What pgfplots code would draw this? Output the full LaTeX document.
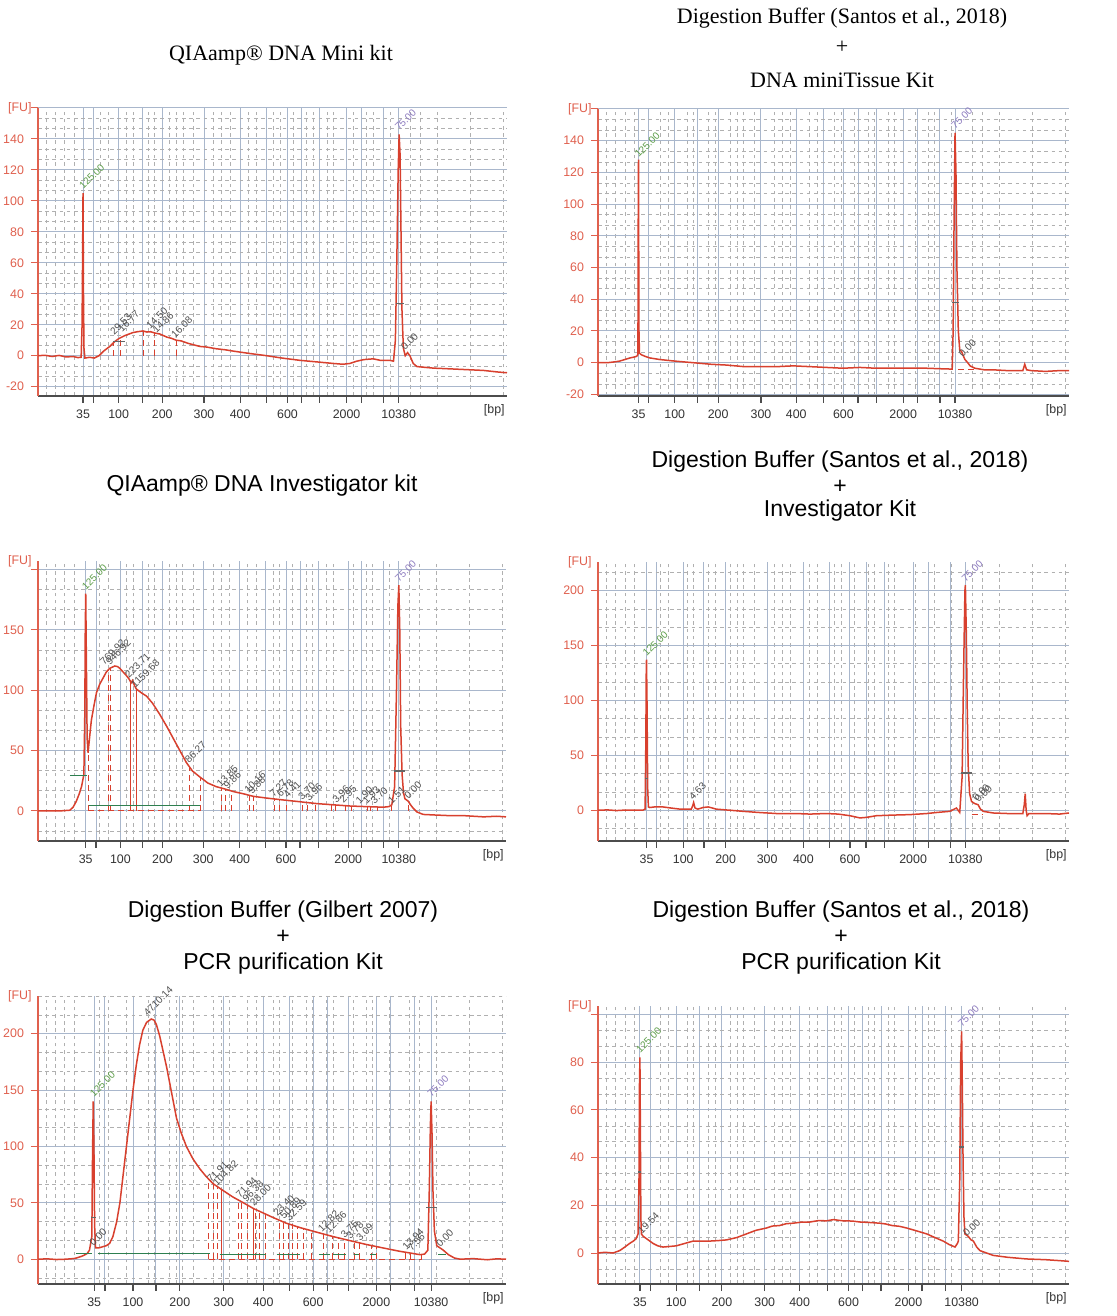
\documentclass[border=0pt]{standalone}
\usepackage{pgfplots}
\pgfplotsset{compat=1.18}
\usepackage{fontspec}
\setmainfont{Liberation Serif}
\newfontfamily\sansf{Liberation Sans}
\newfontfamily\tickf{Liberation Sans}
\definecolor{curve}{HTML}{D8402E}
\definecolor{axred}{HTML}{E0604E}
\definecolor{gridblue}{HTML}{A9B7CC}
\definecolor{gridgray}{HTML}{B0B0B0}
\definecolor{lblgreen}{HTML}{5E9E4A}
\definecolor{lblpurple}{HTML}{8E7CC0}
\definecolor{lbldark}{HTML}{505050}
\definecolor{basegreen}{HTML}{2E8050}
\newcommand\annf{\tickf\fontsize{5}{5.5}\selectfont}
\newcommand{\ann}[4]{\node[rotate=45, anchor=south west, inner sep=0.4pt, text=#1, font=\annf] at (axis cs:#2,#3) {#4};}
\pgfplotsset{
 bio/.style={
  scale only axis, anchor=south west,
  xmin=0, xmax=100,
  axis lines*=left,
  x axis line style={draw=black!70, line width=1pt},
  y axis line style={draw=axred, line width=0.6pt},
  tick align=outside,
  major tick length=3.5pt,
  minor tick length=0pt,
  xtick style={draw=black!70, line width=0.6pt},
  ytick style={draw=axred, line width=0.5pt},
  grid=both,
  major grid style={draw=gridblue, line width=0.5pt},
  minor grid style={draw=gridgray, line width=0.3pt, dash pattern=on 1.8pt off 1.8pt},
  tick label style={font=\tickf\fontsize{6.2}{7}\selectfont},
  yticklabel style={text=axred},
  xticklabel style={text=black!80},
  /pgf/number format/assume math mode=true,
  xticklabels={35,,100,,200,300,400,,600,,,2000,,,10380},
  minor xtick={1.8,3.6,5.7,7.8,13.2,15.0,18.9,20.3,23.5,24.9,28.1,29.5,30.9,33.1,37.4,39.1,40.9,44.8,46.6,50.2,51.6,54.4,57.3,58.7,61.6,63.0,67.3,70.1,71.5,75.1,79.4,81.5,85.1,92.2,99.3},
  clip mode=individual,
  after end axis/.code={
    \node[anchor=east, text=axred, font=\tickf\fontsize{6.2}{7}\selectfont, inner sep=1pt] at ([xshift=-2pt]rel axis cs:0,1) {[FU]};
    \node[anchor=north east, text=black!80, font=\tickf\fontsize{6.2}{7}\selectfont, inner sep=1pt] at ([yshift=-3pt]rel axis cs:1,0) {[bp]};
  },
 },
 cv/.style={draw=curve, line width=0.75pt, mark=none},
 cb/.style={ycomb, draw=curve, densely dashed, line width=0.35pt, mark=none},
 gb/.style={draw=basegreen, line width=0.6pt, mark=none},
 gd/.style={draw=black!60, line width=0.7pt, mark=none},
}
\begin{document}
\begin{tikzpicture}[x=1pt,y=1pt]
\useasboundingbox (0,0) rectangle (558,658);
\fill[white] (0,0) rectangle (558,658);

% ---------- titles ----------
\node[font=\fontsize{11}{13}\selectfont] at (140.5,630.5) {QIAamp® DNA Mini kit};
\node[font=\fontsize{11}{13}\selectfont] at (421,649) {Digestion Buffer (Santos et al., 2018)};
\node[font=\fontsize{11}{13}\selectfont] at (421,634.5) {+};
\node[font=\fontsize{11}{13}\selectfont] at (421,618) {DNA miniTissue Kit};
\node[font=\sansf\fontsize{11.5}{13}\selectfont] at (131,415) {QIAamp® DNA Investigator kit};
\node[font=\sansf\fontsize{11.5}{13}\selectfont] at (420,427) {Digestion Buffer (Santos et al., 2018)};
\node[font=\sansf\fontsize{11.5}{13}\selectfont] at (420,414.5) {+};
\node[font=\sansf\fontsize{11.5}{13}\selectfont] at (420,402.5) {Investigator Kit};
\node[font=\sansf\fontsize{11.5}{13}\selectfont] at (141.5,202) {Digestion Buffer (Gilbert 2007)};
\node[font=\sansf\fontsize{11.5}{13}\selectfont] at (141.5,189.5) {+};
\node[font=\sansf\fontsize{11.5}{13}\selectfont] at (141.5,176) {PCR purification Kit};
\node[font=\sansf\fontsize{11.5}{13}\selectfont] at (420.5,202) {Digestion Buffer (Santos et al., 2018)};
\node[font=\sansf\fontsize{11.5}{13}\selectfont] at (420.5,189.5) {+};
\node[font=\sansf\fontsize{11.5}{13}\selectfont] at (420.5,176) {PCR purification Kit};

% ---------- Panel 1 ----------
\begin{axis}[bio, at={(19pt,460pt)}, width=234.5pt, height=144pt,
  ymin=-26, ymax=160,
  ytick={-20,0,20,40,60,80,100,120,140,160},
  yticklabels={-20,0,20,40,60,80,100,120,140,{}},
  minor ytick={-13.33,-6.67,6.67,13.33,26.67,33.33,46.67,53.33,66.67,73.33,86.67,93.33,106.67,113.33,126.67,133.33,146.67,153.33},
  xtick={9.6,11.9,17.2,22.2,26.5,35.4,43.1,48.8,53.2,56.1,60.0,65.8,68.9,73.7,76.9}]
\addplot[cv] coordinates {(0,0)(1.5,0.3)(3,-0.5)(4.5,0.2)(6,-0.8)(7.5,-0.5)(8.5,-1.2)(9.2,-1)(9.4,20)(9.5,60)(9.6,105)(9.7,40)(9.8,5)(10,-1.5)(11,-1)(12,-1.5)(13,0)(14,3)(15.3,6)(16.3,9)(17.2,11)(18.5,13)(20.3,15)(21.2,15.5)(22.4,16)(23.2,15.3)(24,15.5)(25,14.6)(26,14)(27.5,12)(28.5,11.2)(29.5,10)(30.5,9.6)(32,8)(34.5,6)(36,5.6)(38,4.5)(40,3.8)(41.6,3)(45,1.5)(48.8,0)(52,-1.5)(55.9,-3)(59.5,-4)(63,-5)(65,-5.5)(66.5,-5)(68,-3.5)(69.5,-2.5)(71.5,-2)(73,-3)(75,-3)(75.8,-3.5)(76.2,10)(76.5,60)(76.8,120)(77.0,143)(77.2,130)(77.4,80)(77.6,30)(77.9,5)(78.3,0)(78.8,2)(79.3,0)(80,-5)(80.8,-7)(82.5,-7.5)(84.3,-8)(88,-8.5)(91.5,-9)(95,-9.5)(98,-10.5)(100,-11)};
\addplot[cb] coordinates {(16.0,8)(17.5,11)(22.5,16)(24.8,15)(29.6,10)};
\addplot[gd] coordinates {(16.0,9)(18.5,9)};
\addplot[gd] coordinates {(76.3,33.6)(78.0,33.6)};
\ann{lblgreen}{9.7}{106}{125.00}
\ann{lblpurple}{77.0}{144}{75.00}
\ann{lbldark}{78.3}{2}{0.00}
\ann{lbldark}{16.3}{12}{29.53}
\ann{lbldark}{18.0}{14}{16.77}
\ann{lbldark}{24.0}{16}{14.50}
\ann{lbldark}{25.3}{13}{14.86}
\ann{lbldark}{29.3}{10}{16.08}
\end{axis}

% ---------- Panel 2 ----------
\begin{axis}[bio, at={(299pt,460pt)}, width=235.5pt, height=143.5pt,
  ymin=-21, ymax=160,
  ytick={-20,0,20,40,60,80,100,120,140,160},
  yticklabels={-20,0,20,40,60,80,100,120,140,{}},
  minor ytick={-13.33,-6.67,6.67,13.33,26.67,33.33,46.67,53.33,66.67,73.33,86.67,93.33,106.67,113.33,126.67,133.33,146.67,153.33},
  xtick={8.6,10.8,16.3,21.2,25.5,34.6,42.1,47.8,52.1,55.2,59.1,64.8,67.8,72.6,75.8}]
\addplot[cv] coordinates {(0,0)(2,0)(3.5,0.5)(4.6,1)(5.7,2)(6.8,3)(7.6,3.5)(8.2,4)(8.45,5)(8.5,30)(8.55,100)(8.6,128)(8.65,70)(8.7,20)(8.8,6)(9.2,5)(10,4)(11,3)(13.1,2)(16.3,1)(20.2,0)(24,-1)(27.3,-1.5)(31,-2.5)(34.3,-2.5)(38,-2.5)(41.4,-2)(45,-2.5)(48.5,-3)(52,-3.5)(55.6,-3)(59,-3.5)(62.7,-3.5)(66,-3.5)(69.8,-3.5)(72.5,-3.8)(74.7,-4)(75.2,-4)(75.4,20)(75.6,90)(75.8,145)(76.0,120)(76.2,60)(76.5,20)(76.8,8)(77.2,7)(77.6,4)(77.9,2)(78.5,0)(79,-2)(80,-3.5)(82,-4.5)(83.9,-4.5)(87,-5)(90.2,-5)(90.6,-1)(91,-4.5)(92,-5)(95,-5.5)(98,-5)(100,-5)};
\addplot[gd] coordinates {(75.2,38)(76.7,38)};
\addplot[draw=curve, densely dashed, line width=0.35pt] coordinates {(76.5,-4)(80,-4)};
\ann{lblgreen}{8.7}{128}{125.00}
\ann{lblpurple}{75.9}{146}{75.00}
\ann{lbldark}{77.5}{2}{0.00}
\end{axis}

% ---------- Panel 3 ----------
\begin{axis}[bio, at={(19pt,237.5pt)}, width=234pt, height=140pt,
  ymin=-25, ymax=207,
  ytick={0,50,100,150,200},
  yticklabels={0,50,100,150,{}},
  minor ytick={-16.67,16.67,33.33,66.67,83.33,116.67,133.33,166.67,183.33},
  xtick={10.2,12.4,17.6,22.3,26.6,35.3,43.1,48.6,53.0,56.0,60.0,66.3,69.2,73.9,77.1}]
\addplot[cb] coordinates {(10.8,50)(15.0,117)(15.4,118)(32.4,36)(34.6,28)(39.1,18)(40.0,17)(41.3,16)(45.2,13)(46.1,12)(50.5,10)(51.5,10)(53.0,9)(56.5,7.5)(57.5,7.3)(59.2,6)(62.6,5)(63.5,5)(65.7,4.5)(67,4)(70.3,3.5)(71,3.5)(72.5,3.2)(75.5,4)(79.2,8)};
\addplot[ycomb, draw=curve, line width=0.45pt, mark=none] coordinates {(19.7,108)(21.0,101)};
\addplot[draw=curve, densely dashed, line width=0.35pt] coordinates {(10.7,0)(34.6,0)};
\addplot[cv] coordinates {(0,0)(3,0)(5,0)(6.8,0.5)(7.5,3)(8.2,8)(8.8,14)(9.3,20)(9.8,30)(10.0,80)(10.1,150)(10.2,180)(10.35,120)(10.5,60)(10.7,48)(11.0,60)(11.4,75)(12.0,88)(12.5,98)(13.2,105)(13.9,110)(14.6,115)(15.3,118)(16.4,120)(17.0,119.5)(17.5,118)(18.2,115)(18.9,112)(19.5,109)(19.9,106)(20.2,108)(20.6,104)(21.0,101)(22.0,98)(23.2,95)(24.5,89)(26.0,80)(27.5,70)(28.9,60)(30.3,50)(31.7,40)(33.0,33)(34.6,28)(36.3,23)(38.1,20)(40,18)(41.7,16)(44,14)(46,12)(49,10.5)(52.4,9)(56,7.5)(59.5,6)(63,5)(66.6,4)(70,3.5)(73.8,3)(75.0,3.5)(75.6,5)(76.2,20)(76.6,100)(76.9,170)(77.1,187)(77.3,150)(77.5,70)(77.8,30)(78.1,15)(78.4,10)(79.1,8)(79.6,5)(80.2,2)(81,-1)(82.3,-3)(85,-3.5)(88,-4)(91,-4)(95.2,-5)(98,-4.5)(100,-5)};
\addplot[gb] coordinates {(10.8,4.3)(34.6,4.3)};
\addplot[gb] coordinates {(6.8,29.5)(10.5,29.5)};
\addplot[gd] coordinates {(76.1,33)(78.4,33)};
\ann{lblgreen}{10.3}{181}{125.00}
\ann{lblpurple}{77.2}{188}{75.00}
\ann{lbldark}{14.2}{119}{769.92}
\ann{lbldark}{15.4}{119}{946.92}
\ann{lbldark}{19.5}{108}{223.71}
\ann{lbldark}{20.8}{100}{1159.68}
\ann{lbldark}{32.3}{38}{86.27}
\ann{lbldark}{39.1}{18}{13.85}
\ann{lbldark}{40.6}{16}{9.86}
\ann{lbldark}{45.0}{13}{10.16}
\ann{lbldark}{45.8}{12}{9.88}
\ann{lbldark}{50.4}{10}{7.27}
\ann{lbldark}{51.9}{9.5}{6.78}
\ann{lbldark}{53.4}{8.5}{4.41}
\ann{lbldark}{56.5}{7}{3.70}
\ann{lbldark}{58.0}{6.5}{3.96}
\ann{lbldark}{63.8}{5}{3.96}
\ann{lbldark}{65.3}{5}{2.95}
\ann{lbldark}{68.8}{4}{1.90}
\ann{lbldark}{70.3}{4}{1.93}
\ann{lbldark}{72.0}{3.5}{3.70}
\ann{lbldark}{75.7}{4}{1.51}
\ann{lbldark}{79.2}{8}{0.00}
\end{axis}

% ---------- Panel 4 ----------
\begin{axis}[bio, at={(299pt,237.5pt)}, width=235.5pt, height=139.5pt,
  ymin=-28, ymax=226,
  ytick={0,50,100,150,200},
  yticklabels={0,50,100,150,200},
  minor ytick={-16.67,16.67,33.33,66.67,83.33,116.67,133.33,166.67,183.33,216.67},
  xtick={10.3,12.5,18.1,22.5,27.1,35.9,43.6,49.1,53.5,56.9,60.9,66.9,70.2,74.9,78.0}]
\addplot[cv] coordinates {(0,0)(2,0.3)(4,-0.3)(6,0.2)(8,0)(9.6,0.2)(10.0,1)(10.15,60)(10.25,130)(10.3,137)(10.4,100)(10.55,20)(10.7,3)(11,2.5)(12,3)(13.8,3)(15.5,2)(17.4,1)(19.8,1)(20.1,4)(20.3,7)(20.6,2)(21.2,1)(22.3,2.5)(23.4,3)(24.3,2)(25.1,1)(28,0)(30.8,-1)(34,-2)(37.9,-3)(42,-3)(45,-3.5)(48.5,-3)(51,-3.5)(53.5,-5)(55.6,-7)(57,-6.5)(59.1,-5)(62,-4.5)(66.2,-4)(69.8,-3)(72,-2)(74.7,-1)(76.1,2)(76.8,-2)(77.3,30)(77.6,120)(77.9,200)(78.0,205)(78.2,160)(78.4,90)(78.6,40)(78.9,15)(79.3,8)(80.0,6)(80.7,5)(81.2,1)(81.8,-1)(83.9,-2.5)(87,-3)(90.2,-3)(90.5,5)(90.7,15)(90.9,0)(91.1,-5)(91.5,-3)(95,-3)(98,-3.5)(100,-2.5)};
\addplot[gd] coordinates {(77.0,34)(79.3,34)};
\addplot[gd] coordinates {(10.0,29)(10.6,29)};
\addplot[draw=curve, densely dashed, line width=0.35pt] coordinates {(79.3,-4)(81.5,-4)};
\ann{lblgreen}{10.4}{138}{125.00}
\ann{lblpurple}{78.1}{206}{75.00}
\ann{lbldark}{20.2}{7}{4.63}
\ann{lbldark}{80.4}{6}{0.00}
\ann{lbldark}{80.9}{5}{0.00}
\end{axis}

% ---------- Panel 5 ----------
\begin{axis}[bio, at={(19pt,16pt)}, width=234pt, height=144pt,
  ymin=-22, ymax=233.4,
  ytick={0,50,100,150,200},
  yticklabels={0,50,100,150,200},
  minor ytick={-16.67,16.67,33.33,66.67,83.33,116.67,133.33,166.67,183.33,216.67,233.33},
  xtick={12.0,14.3,20.3,25.2,30.3,39.7,48.1,53.8,58.8,61.8,66.3,72.3,75.3,80.5,84.0}]
\addplot[cb] coordinates {(36.5,71)(37.4,67)(38.3,64)(42.8,52)(43.5,50)(44.8,48)(46.5,44)(47.2,43)(48.5,40)(51.5,35)(52.5,34)(53.5,33)(54.4,31)(55.4,29)(56.6,27)(58.5,25)(61,22.5)(62.8,20.5)(64.2,19)(65.5,17.5)(67.5,15.5)(68.7,14.5)(71.3,12)(72.3,11)(78.5,6)(79.5,5.5)(82,4.2)};
\addplot[ycomb, draw=curve, line width=0.45pt, mark=none] coordinates {(39.3,61)(46.0,45)};
\addplot[draw=curve, densely dashed, line width=0.35pt] coordinates {(36.5,0)(82,0)};
\addplot[cv] coordinates {(0,0)(2,0.3)(4,-0.3)(6,0)(7.5,0.5)(8.2,1)(9.6,3)(10.5,5)(11.0,8)(11.5,20)(11.65,90)(11.8,140)(11.95,100)(12.1,30)(12.3,10)(13,10)(14.6,12)(15.3,14)(16,20)(16.8,33)(17.5,50)(18.2,75)(18.9,100)(19.6,125)(20.3,150)(21.0,172)(21.7,190)(22.4,203)(23.2,210)(24.2,213)(24.8,212)(25.3,208)(26.0,198)(26.7,185)(27.5,170)(28.2,155)(28.9,140)(29.6,125)(30.6,112)(31.7,100)(33.1,89)(34.6,80)(36,73)(37.4,67)(39.5,61)(41.7,55)(43.9,50)(46,45)(48.1,41)(50.2,37)(53,32)(56,28)(59.5,24)(63.1,20)(66.6,16.5)(70.2,13)(73.7,10)(77.3,7)(79.5,5.5)(81.6,4)(82.6,4.5)(83.3,8)(83.6,60)(83.85,120)(84.0,140)(84.2,110)(84.4,60)(84.7,25)(85.2,12)(85.9,10)(86.6,8)(87.7,4)(89,1)(90.2,0)(93,0.5)(96,-0.5)(98,0.3)(100,0)};
\addplot[gb] coordinates {(8.2,5.3)(11.6,5.3)};
\addplot[gb] coordinates {(12.8,5)(36.7,5)};
\addplot[gb] coordinates {(38.8,4)(48.8,4)};
\addplot[gb] coordinates {(51.0,4)(56.0,4)};
\addplot[gb] coordinates {(60.0,4)(62.3,4)};
\addplot[gb] coordinates {(63.0,4)(65.8,4)};
\addplot[gb] coordinates {(67.5,4)(68.5,4)};
\addplot[gb] coordinates {(71.0,4)(72.3,4)};
\addplot[gb] coordinates {(85.5,4)(87.2,4)};
\addplot[gd] coordinates {(83.0,46)(85.3,46)};
\addplot[gd] coordinates {(11.4,37)(12.3,37)};
\ann{lblgreen}{12.0}{142}{125.00}
\ann{lblpurple}{84.1}{142}{75.00}
\ann{lbldark}{23.5}{214}{4710.14}
\ann{lbldark}{11.9}{10}{0.00}
\ann{lbldark}{86.0}{9}{0.00}
\ann{lbldark}{37.0}{66}{71.91}
\ann{lbldark}{38.3}{63}{104.82}
\ann{lbldark}{43.2}{52}{71.94}
\ann{lbldark}{44.6}{49}{96.38}
\ann{lbldark}{46.2}{45}{28.00}
\ann{lbldark}{51.2}{36}{23.40}
\ann{lbldark}{52.6}{34}{50.89}
\ann{lbldark}{53.8}{32}{32.59}
\ann{lbldark}{60.7}{22}{12.82}
\ann{lbldark}{62.3}{21}{12.86}
\ann{lbldark}{65.6}{17}{3.75}
\ann{lbldark}{66.8}{16}{3.78}
\ann{lbldark}{68.9}{14}{3.09}
\ann{lbldark}{78.8}{6}{13.94}
\ann{lbldark}{79.9}{5}{7.56}
\end{axis}

% ---------- Panel 6 ----------
\begin{axis}[bio, at={(299pt,16pt)}, width=235.5pt, height=139pt,
  ymin=-13, ymax=103.6,
  ytick={0,20,40,60,80,100},
  yticklabels={0,20,40,60,80,{}},
  minor ytick={-6.67,6.67,13.33,26.67,33.33,46.67,53.33,66.67,73.33,86.67,93.33},
  xtick={8.9,11.1,16.6,21.6,26.3,35.4,42.8,48.7,53.2,56.1,60.1,65.9,68.8,73.8,77.2}]
\addplot[cv] coordinates {(0,0)(1.5,0.3)(3.2,0)(4.6,1)(5.7,2.5)(6.7,4)(7.5,5)(8.1,6)(8.5,8)(8.7,30)(8.8,70)(8.9,82)(9.0,50)(9.1,15)(9.2,8)(9.6,7)(10.3,6)(11,5)(11.7,4)(12.7,3)(13.8,2.5)(15,2.7)(16.6,3)(18.4,4)(20.2,5)(22,5)(23.7,5)(25.5,5.2)(27.3,5.5)(29.5,6.5)(31.5,8)(33.5,9.5)(35.8,10.5)(37,11.3)(38.5,11.5)(40,12.3)(41.4,12.5)(43,12.9)(45,13)(46.8,13.6)(48.5,13.5)(50,14)(52,13.5)(54,13.4)(55.6,13)(57.7,12.8)(59.8,12.5)(61,12.2)(62.5,11.5)(64,11.2)(65.5,10.5)(67.6,9.3)(69.8,8)(71.5,6.5)(73.3,5)(74.6,3.5)(75.8,2.5)(76.3,4)(76.5,5)(76.8,30)(77.0,80)(77.2,93)(77.35,70)(77.5,40)(77.7,15)(77.9,8)(78.6,7)(79.2,5.5)(79.7,5)(80.4,2.5)(81.1,1)(82.5,0)(83.9,-1)(87,-1.8)(91,-2.5)(95,-2.8)(98,-3.2)(100,-3.5)};
\addplot[gd] coordinates {(76.6,44.5)(77.8,44.5)};
\addplot[gd] coordinates {(8.5,34)(9.2,34)};
\ann{lblgreen}{9.0}{83}{125.00}
\ann{lblpurple}{77.3}{94}{75.00}
\ann{lbldark}{9.4}{7}{19.54}
\ann{lbldark}{78.4}{6}{0.00}
\end{axis}
\end{tikzpicture}
\end{document}
